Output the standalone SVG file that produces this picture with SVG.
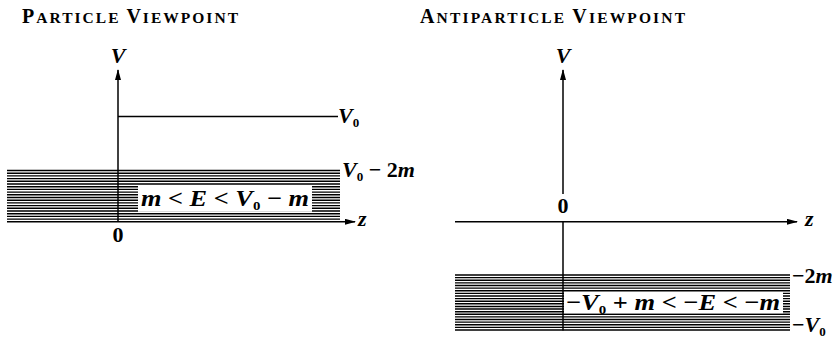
<svg xmlns="http://www.w3.org/2000/svg" width="840" height="343" viewBox="0 0 840 343">
<style>
.t{font-family:"Liberation Serif","DejaVu Serif",serif;font-weight:bold;fill:#000}
.m{font-family:"Liberation Serif","DejaVu Serif",serif;font-weight:bold;font-size:22px;fill:#000}
.b{font-size:23px}
.i{font-style:italic}
.ax{stroke:#000;stroke-width:1.5;fill:none}
.band{stroke:#000;stroke-width:1.4;fill:none}
</style>
<defs>
<marker id="ah" viewBox="0 0 11 6" refX="10" refY="3" markerWidth="11" markerHeight="6" markerUnits="userSpaceOnUse" orient="auto">
<path d="M0,0 L11,3 L0,6 Z" fill="#000"/>
</marker>
</defs>
<rect width="840" height="343" fill="#fff"/>

<g id="title-particle">
<text class="t" x="22" y="23" textLength="216" lengthAdjust="spacing"><tspan font-size="20">P</tspan><tspan font-size="15.5">ARTICLE </tspan><tspan font-size="20">V</tspan><tspan font-size="15.5">IEWPOINT</tspan></text>
</g>
<g id="title-antiparticle">
<text class="t" x="420" y="23" textLength="265" lengthAdjust="spacing"><tspan font-size="20">A</tspan><tspan font-size="15.5">NTIPARTICLE </tspan><tspan font-size="20">V</tspan><tspan font-size="15.5">IEWPOINT</tspan></text>
</g>

<g id="particle-band">
<path class="band" d="M7,170.5H340 M7,173.2H340 M7,175.9H340 M7,178.6H340 M7,181.3H340 M7,184H340 M7,186.7H340 M7,189.4H340 M7,192.1H340 M7,194.8H340 M7,197.5H340 M7,200.2H340 M7,202.9H340 M7,205.6H340 M7,208.3H340 M7,211H340 M7,213.7H340 M7,216.4H340 M7,219.1H340"/>
<rect x="138" y="185.8" width="174" height="26" fill="#fff"/>
<text class="m b" x="141" y="206" textLength="168" lengthAdjust="spacingAndGlyphs"><tspan class="i">m</tspan> &lt; <tspan class="i">E</tspan> &lt; <tspan class="i">V</tspan><tspan font-size="13" dy="4">0</tspan><tspan dy="-4"> − </tspan><tspan class="i">m</tspan></text>
</g>

<g id="antiparticle-band">
<path class="band" d="M455,275H790 M455,277.62H790 M455,280.24H790 M455,282.86H790 M455,285.48H790 M455,288.1H790 M455,290.72H790 M455,293.34H790 M455,295.96H790 M455,298.58H790 M455,301.2H790 M455,303.82H790 M455,306.44H790 M455,309.06H790 M455,311.68H790 M455,314.3H790 M455,316.92H790 M455,319.54H790 M455,322.16H790 M455,324.78H790 M455,327.4H790 M455,330.02H790"/>
<rect x="564" y="292" width="219" height="21.2" fill="#fff"/>
<text class="m b" x="566" y="309.5" textLength="214" lengthAdjust="spacingAndGlyphs">−<tspan class="i">V</tspan><tspan font-size="13" dy="4">0</tspan><tspan dy="-4"> + </tspan><tspan class="i">m</tspan> &lt; −<tspan class="i">E</tspan> &lt; −<tspan class="i">m</tspan></text>
</g>

<g id="connectors">
<line class="ax" x1="118" y1="222" x2="118" y2="70" marker-end="url(#ah)"/>
<line class="ax" x1="118" y1="116.5" x2="338" y2="116.5"/>
<line class="ax" x1="7" y1="221.8" x2="355" y2="221.8" marker-end="url(#ah)"/>
<line class="ax" x1="563" y1="194" x2="563" y2="70" marker-end="url(#ah)"/>
<line class="ax" x1="563" y1="221.8" x2="563" y2="330.5"/>
<line class="ax" x1="455" y1="221.8" x2="797" y2="221.8" marker-end="url(#ah)"/>
</g>

<g id="labels-particle">
<text class="m i" x="118" y="63" text-anchor="middle">V</text>
<text class="m" x="338" y="123"><tspan class="i">V</tspan><tspan font-size="13" dy="4">0</tspan></text>
<text class="m" x="342" y="177"><tspan class="i">V</tspan><tspan font-size="13" dy="4">0</tspan><tspan dy="-4"> − 2</tspan><tspan class="i">m</tspan></text>
<text class="m i" x="358" y="226">z</text>
<text class="m" x="118" y="242" text-anchor="middle">0</text>
</g>

<g id="labels-antiparticle">
<text class="m i" x="563" y="63" text-anchor="middle">V</text>
<text class="m" x="563" y="213" text-anchor="middle">0</text>
<text class="m i" x="805" y="226">z</text>
<text class="m" x="792" y="283">−2<tspan class="i">m</tspan></text>
<text class="m" x="792" y="332">−<tspan class="i">V</tspan><tspan font-size="13" dy="4">0</tspan></text>
</g>
</svg>
